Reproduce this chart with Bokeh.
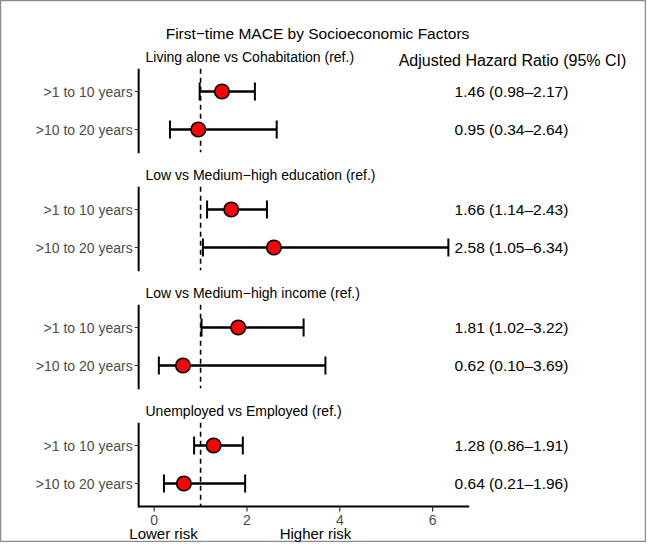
from bokeh.plotting import figure
from bokeh.models import Range1d, ColumnDataSource
from bokeh.core.properties import value
from bokeh.embed import file_html
from bokeh.resources import INLINE

# ---- data ----
title_text = "First\u2212time MACE by Socioeconomic Factors"
header_text = "Adjusted Hazard Ratio (95% CI)"
panels = ["Living alone vs Cohabitation (ref.)",
          "Low vs Medium\u2212high education (ref.)",
          "Low vs Medium\u2212high income (ref.)",
          "Unemployed vs Employed (ref.)"]
periods = [">1 to 10 years", ">10 to 20 years"]
hr = [1.46, 0.95, 1.66, 2.58, 1.81, 0.62, 1.28, 0.64]
lo = [0.98, 0.34, 1.14, 1.05, 1.02, 0.10, 0.86, 0.21]
hi = [2.17, 2.64, 2.43, 6.34, 3.22, 3.69, 1.91, 1.96]
x_ticks = [0, 2, 4, 6]
x_lo, x_hi = -0.335, 6.79
ref_line = 1
low_label, high_label = "Lower risk", "Higher risk"

FONT = value("Liberation Sans")
W, H = 646, 542
PX_PER_UNIT = 46.4
ZERO_PX = 161.7 - 8  # canvas px of x=0


def X(px):
    """page px -> data units"""
    return (px - 8 - ZERO_PX) / PX_PER_UNIT


def dx(px):
    return px / PX_PER_UNIT


p = figure(width=W, height=H, output_backend="svg", toolbar_location=None,
           x_range=Range1d(X(8), X(8 + W)), y_range=Range1d(8 + H, 8),
           min_border=0, min_border_left=0, min_border_right=0,
           min_border_top=0, min_border_bottom=0)
p.axis.visible = False
p.grid.visible = False
p.outline_line_color = "#8c8c8c"
p.outline_line_width = 1.5
p.background_fill_color = "white"
p.border_fill_color = "white"

PANEL_STEP = 118
ROW_STEP = 38
ROW0 = 99
EXP = 0.6 * ROW_STEP
AXIS_Y = 514

rows_y, labels, tick_lbl = [], [], []
for i, _ in enumerate(panels):
    for j, per in enumerate(periods):
        y = ROW0 + PANEL_STEP * i + ROW_STEP * j
        rows_y.append(y)
        tick_lbl.append(per)
for k in range(len(hr)):
    labels.append(f"{hr[k]:.2f} ({lo[k]:.2f}\u2013{hi[k]:.2f})")

src = ColumnDataSource(dict(y=rows_y, hr=hr, lo=lo, hi=hi, lab=labels,
                            per=tick_lbl,
                            ct=[y - 9 for y in rows_y], cb=[y + 9 for y in rows_y]))

# panel axes, dashed reference lines, titles
ax_top, ax_bot, ttl_y = [], [], []
for i in range(len(panels)):
    top = ROW0 + PANEL_STEP * i - EXP
    bot = ROW0 + PANEL_STEP * i + ROW_STEP + EXP
    if i == len(panels) - 1:
        bot = AXIS_Y
    ax_top.append(top)
    ax_bot.append(bot)
    ttl_y.append(ROW0 + PANEL_STEP * i - 35)

p.segment(x0=ref_line, x1=ref_line, y0=ax_top, y1=ax_bot,
          line_color="black", line_width=1.6, line_dash="5 4")
p.segment(x0=x_lo, x1=x_lo, y0=ax_top, y1=[b + 1 for b in ax_bot],
          line_color="black", line_width=2)
p.text(x=[X(153)] * len(panels), y=ttl_y, text=panels, text_font=FONT,
       text_font_size="14px", text_color="black", text_align="left",
       text_baseline="middle")

# y ticks and labels
p.segment(x0=x_lo - dx(4), x1=x_lo, y0="y", y1="y", source=src,
          line_color="#333333", line_width=1.2)
p.text(x=x_lo - dx(6), y="y", text="per", source=src, text_font=FONT,
       text_font_size="14px", text_color="#4d4d4d", text_align="right",
       text_baseline="middle")

# x axis
p.segment(x0=x_lo, x1=x_hi, y0=AXIS_Y, y1=AXIS_Y, line_color="black",
          line_width=2)
p.segment(x0=x_ticks, x1=x_ticks, y0=AXIS_Y, y1=AXIS_Y + 5,
          line_color="#333333", line_width=1.2)
p.text(x=x_ticks, y=AXIS_Y + 13, text=[str(t) for t in x_ticks],
       text_font=FONT, text_font_size="14px", text_color="#4d4d4d",
       text_align="center", text_baseline="middle")
p.text(x=[X(171), X(323)], y=[AXIS_Y + 26.5] * 2, text=[low_label, high_label],
       text_font=FONT, text_font_size="15px", text_color="black",
       text_align="center", text_baseline="middle")

# error bars and points
p.segment(x0="lo", x1="hi", y0="y", y1="y", source=src, line_color="black",
          line_width=2.5)
p.segment(x0="lo", x1="lo", y0="ct", y1="cb", source=src, line_color="black",
          line_width=2)
p.segment(x0="hi", x1="hi", y0="ct", y1="cb", source=src, line_color="black",
          line_width=2)
p.scatter(x="hr", y="y", source=src, size=14.5, fill_color="red",
          line_color="black", line_width=1.6)

# right-hand values
p.text(x=X(519), y="y", text="lab", source=src, text_font=FONT,
       text_font_size="15.5px", text_color="black", text_align="center",
       text_baseline="middle")
p.text(x=[X(520)], y=[68], text=[header_text], text_font=FONT,
       text_font_size="16px", text_color="black", text_align="center",
       text_baseline="middle")

# title
p.text(x=[X(325)], y=[41], text=[title_text], text_font=FONT,
       text_font_size="15.5px", text_color="black", text_align="center",
       text_baseline="middle")

open("out.html", "w").write(file_html(p, INLINE))
